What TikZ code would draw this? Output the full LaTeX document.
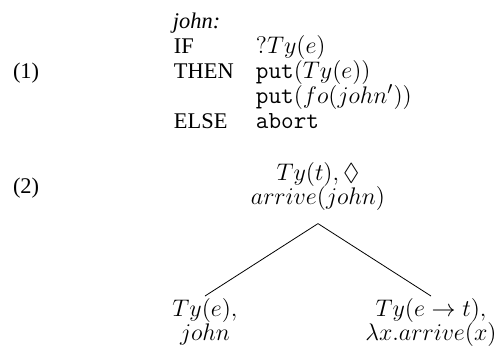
\documentclass[tikz,border=0pt]{standalone}
\usepackage[no-math]{fontspec}
\setmainfont{Liberation Serif}
\usepackage{amssymb}
\newcommand\mytreefont{\fontsize{12.25}{12}\selectfont\lineskiplimit=-20pt\relax\lineskip=0pt\relax}
\begin{document}
\begin{tikzpicture}[x=0.5pt,y=-0.5pt,
  txt/.style={inner sep=0pt, outer sep=0pt, anchor=base west, font=\fontsize{11.2}{13}\selectfont},
  mth/.style={inner sep=0pt, outer sep=0pt, anchor=base west, font=\fontsize{12.25}{13}\selectfont},
  tnode/.style={inner sep=0pt, align=center, anchor=north, font=\mytreefont},
  edge/.style={line width=0.4pt}]
\useasboundingbox (0,0) rectangle (500,345);
% (1) lexical entry
\node[txt] (n1) at (13,78.5) {(1)};
\node[txt] (kw0) at (173,28.5) {\itshape john:};
\node[txt] (kw1) at (174,53.5) {IF};
\node[txt] (kw2) at (174,78.5) {THEN};
\node[txt] (kw3) at (174,128.5) {ELSE};
\node[mth] (c1) at (256,53.5) {$?Ty(e)$};
\node[mth] (c2) at (256,78.5) {\texttt{put}$(Ty(e))$};
\node[mth] (c3) at (256,103.5) {\texttt{put}$(fo(john'))$};
\node[mth] (c4) at (256,128.5) {\texttt{abort}};
% (2) tree
\node[txt] (n2) at (13,193) {(2)};
\node[tnode, outer ysep=6.5pt] (root) at (318,149.6) {$Ty(t),\Diamond$\\$arrive(john)$};
\node[tnode, outer ysep=1.3pt] (left) at (205,296) {$Ty(e),$\\$john$};
\node[tnode, outer ysep=1.3pt] (right) at (431,296) {$Ty(e\rightarrow t),$\\$\lambda x.arrive(x)$};
\draw[edge] (root.south) -- (left.north);
\draw[edge] (root.south) -- (right.north);
\end{tikzpicture}
\end{document}
